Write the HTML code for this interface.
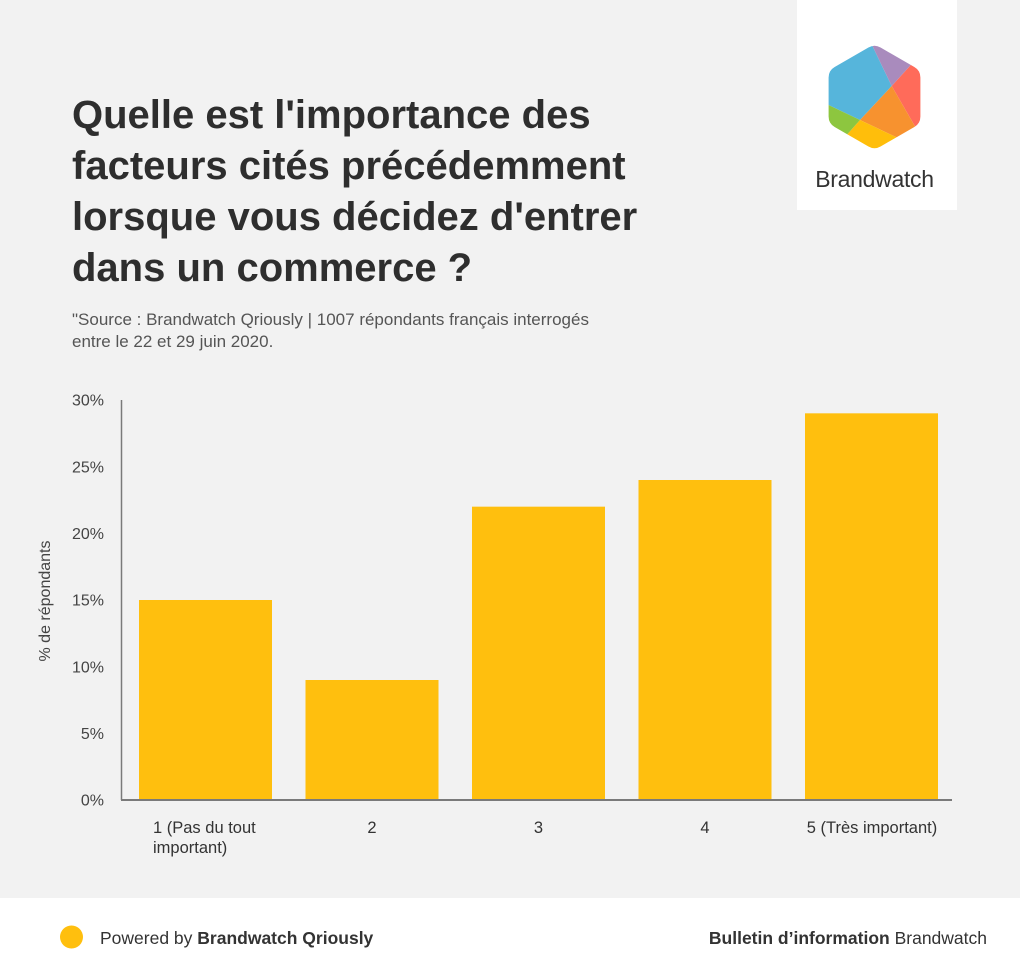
<!DOCTYPE html>
<html>
<head>
<meta charset="utf-8">
<style>
  html,body{margin:0;padding:0;}
  body{width:1020px;height:979px;overflow:hidden;background:#f2f2f2;font-family:"Liberation Sans",Arial,sans-serif;}
  svg{display:block;}
</style>
</head>
<body>
<svg width="1020" height="979" viewBox="0 0 1020 979" xmlns="http://www.w3.org/2000/svg" font-family="'Liberation Sans', Arial, sans-serif">
  <rect x="0" y="0" width="1020" height="979" fill="#f2f2f2"/>

  <!-- Logo box -->
  <rect x="797" y="0" width="160" height="210" fill="#ffffff"/>
  <defs>
    <clipPath id="hex">
      <path d="M880.56,47.5 L914.34,67 Q920.4,70.5 920.4,77.5 L920.4,116.5 Q920.4,123.5 914.34,127 L880.56,146.5 Q874.5,150 868.44,146.5 L834.66,127 Q828.6,123.5 828.6,116.5 L828.6,77.5 Q828.6,70.5 834.66,67 L868.44,47.5 Q874.5,44 880.56,47.5 Z"/>
    </clipPath>
  </defs>
  <g clip-path="url(#hex)">
    <polygon points="869,38.8 891.7,86 860,120 820,100.9 820,35" fill="#56b5db"/>
    <polygon points="891.7,86 916.4,58.7 935,55 935,140 920,135" fill="#ff6b5a"/>
    <polygon points="869,38.8 891.7,86 916.4,58.7 905,30 865,30" fill="#a98bbd"/>
    <polygon points="891.7,86 920,135 910,143.7 860,120" fill="#f7922f"/>
    <polygon points="860,120 910,143.7 880,170 840,142.5" fill="#ffbe0b"/>
    <polygon points="860,120 840,142.5 815,130 820,100.9" fill="#8dc63f"/>
  </g>
  <text x="874.5" y="187" font-size="23" letter-spacing="-0.3" fill="#333333" text-anchor="middle">Brandwatch</text>

  <!-- Title -->
  <g font-size="40" font-weight="bold" fill="#2e2e2e">
    <text x="72" y="128">Quelle est l'importance des</text>
    <text x="72" y="179">facteurs cités précédemment</text>
    <text x="72" y="230">lorsque vous décidez d'entrer</text>
    <text x="72" y="281">dans un commerce ?</text>
  </g>

  <!-- Subtitle -->
  <g font-size="17" fill="#555555">
    <text x="72" y="325">"Source : Brandwatch Qriously | 1007 répondants français interrogés</text>
    <text x="72" y="347">entre le 22 et 29 juin 2020.</text>
  </g>

  <!-- Bars -->
  <g fill="#ffbf0e">
    <rect x="139" y="600" width="133" height="200"/>
    <rect x="305.5" y="680" width="133" height="120"/>
    <rect x="472" y="506.67" width="133" height="293.33"/>
    <rect x="638.5" y="480" width="133" height="320"/>
    <rect x="805" y="413.33" width="133" height="386.67"/>
  </g>

  <!-- Axes -->
  <line x1="121.5" y1="400" x2="121.5" y2="800" stroke="#7a7a7a" stroke-width="1.5"/>
  <line x1="121" y1="800" x2="952" y2="800" stroke="#7a7a7a" stroke-width="2"/>

  <!-- Y ticks -->
  <g font-size="16" fill="#444444" text-anchor="end">
    <text x="104" y="405.7">30%</text>
    <text x="104" y="472.4">25%</text>
    <text x="104" y="539">20%</text>
    <text x="104" y="605.7">15%</text>
    <text x="104" y="672.4">10%</text>
    <text x="104" y="739">5%</text>
    <text x="104" y="805.7">0%</text>
  </g>

  <!-- Y axis title -->
  <text x="0" y="0" font-size="16" fill="#444444" text-anchor="middle" transform="translate(50,601) rotate(-90)">% de répondants</text>

  <!-- X labels -->
  <g font-size="16.5" fill="#333333">
    <text x="153" y="833">1 (Pas du tout</text>
    <text x="153" y="853">important)</text>
    <text x="372" y="833" text-anchor="middle">2</text>
    <text x="538.5" y="833" text-anchor="middle">3</text>
    <text x="705" y="833" text-anchor="middle">4</text>
    <text x="872" y="833" text-anchor="middle">5 (Très important)</text>
  </g>

  <!-- Footer -->
  <rect x="0" y="898" width="1020" height="81" fill="#ffffff"/>
  <circle cx="71.5" cy="937" r="11.5" fill="#ffbf0e"/>
  <text x="100" y="944" font-size="17.5" fill="#333333">Powered by <tspan font-weight="bold">Brandwatch Qriously</tspan></text>
  <text x="987" y="944" font-size="17.5" fill="#333333" text-anchor="end"><tspan font-weight="bold">Bulletin d’information</tspan> Brandwatch</text>
</svg>
</body>
</html>
